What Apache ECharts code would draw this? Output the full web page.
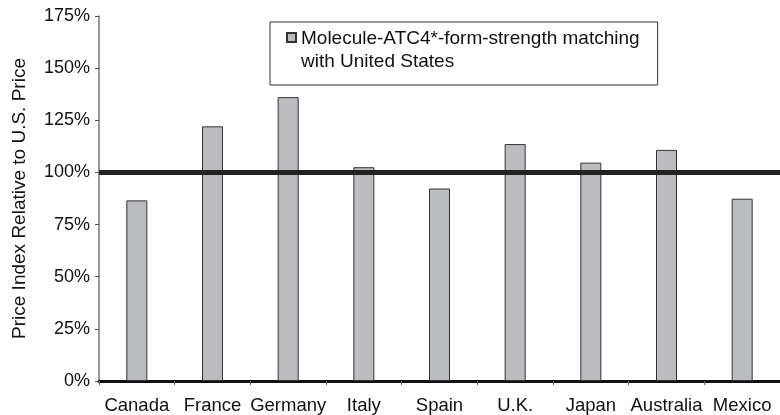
<!DOCTYPE html>
<html>
<head>
<meta charset="utf-8">
<script src="https://cdn.jsdelivr.net/npm/echarts@6/dist/echarts.min.js"></script>
<style>
html,body{margin:0;padding:0;background:#fff;}
#chart{width:780px;height:415px;}
</style>
</head>
<body>
<div id="chart"></div>
<script>
const categories = ['Canada', 'France', 'Germany', 'Italy', 'Spain', 'U.K.', 'Japan', 'Australia', 'Mexico'];
const priceIndex = [86.6, 122.1, 136.1, 102.5, 92.3, 113.6, 104.7, 110.8, 87.4];
const seriesName = 'Molecule-ATC4*-form-strength matching with United States';
const referenceLevel = [100];
const yTicks = { min: 0, max: 175, interval: 25 };

const FONT = '"Liberation Sans", Arial, Helvetica, sans-serif';
const chart = echarts.init(document.getElementById('chart'), null, { renderer: 'canvas' });

chart.setOption({
  animation: false,
  backgroundColor: '#ffffff',
  textStyle: { fontFamily: FONT },
  grid: { left: 99, top: 16, width: 687, bottom: 32, containLabel: false },
  legend: {
    left: 270,
    top: 22,
    padding: [5, 18, 12, 16],
    borderColor: '#333',
    borderWidth: 1,
    itemWidth: 9,
    itemHeight: 34,
    itemGap: 0,
    icon: 'path://M0,0L9,0L9,9L0,9Z M0,34L0.01,34',
    textStyle: { fontSize: 19, lineHeight: 23, color: '#111', fontFamily: FONT },
    formatter: function (name) { return name.replace(' with ', '\nwith '); },
    data: [seriesName]
  },
  xAxis: {
    type: 'category',
    data: categories,
    boundaryGap: true,
    axisLine: { show: true, lineStyle: { color: '#111', width: 3 } },
    axisTick: { show: true, length: 4, interval: 0, alignWithLabel: false, lineStyle: { color: '#666', width: 1 } },
    axisLabel: { interval: 0, fontSize: 18.5, color: '#111', margin: 15, fontFamily: FONT },
    splitLine: { show: false }
  },
  yAxis: {
    type: 'value',
    min: yTicks.min,
    max: yTicks.max,
    interval: yTicks.interval,
    name: 'Price Index Relative to U.S. Price',
    nameLocation: 'middle',
    nameGap: 70,
    nameTextStyle: { fontSize: 19, color: '#111', fontFamily: FONT },
    axisLine: { show: true, lineStyle: { color: '#777', width: 1.5 } },
    axisTick: { show: true, length: 4, lineStyle: { color: '#555', width: 1 } },
    axisLabel: { fontSize: 18, color: '#111', margin: 9, formatter: '{value}%', fontFamily: FONT },
    splitLine: { show: false }
  },
  series: [{
    name: seriesName,
    type: 'bar',
    data: priceIndex,
    barWidth: 21,
    itemStyle: { color: '#bbbcc0', borderColor: '#333', borderWidth: 1 },
    markLine: {
      silent: true,
      symbol: ['none', 'none'],
      label: { show: false },
      lineStyle: { color: '#222', width: 5, type: 'solid' },
      data: referenceLevel.map(v => ({ yAxis: v }))
    }
  }]
});
</script>
</body>
</html>
